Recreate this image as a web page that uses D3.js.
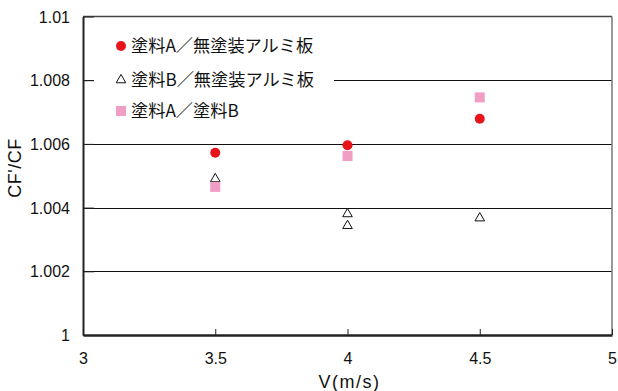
<!DOCTYPE html>
<html>
<head>
<meta charset="utf-8">
<script src="https://cdn.jsdelivr.net/npm/d3@7"></script>
<style>
  html, body { margin: 0; padding: 0; background: #fff; }
  svg { display: block; }
</style>
</head>
<body>
<svg id="chart" width="618" height="391"></svg>
<script>
// Wind speed (m/s) at each measurement
const speeds = [3.5, 4, 4.5];
// CF'/CF ratios per coating pair
const paintAvsBare = [1.00572, 1.00596, 1.00679];
const paintBvsBareX = [3.5, 4, 4, 4.5];
const paintBvsBare = [1.0049, 1.0038, 1.00343, 1.00367];
const paintAvsB = [1.00465, 1.00562, 1.00746];
const xTicks = [3, 3.5, 4, 4.5, 5];
const yTicks = [1, 1.002, 1.004, 1.006, 1.008, 1.01];
const legendLabels = ["塗料A／無塗装アルミ板", "塗料B／無塗装アルミ板", "塗料A／塗料B"];

const svg = d3.select("#chart");
const plotL = 83, plotR = 612, plotT = 16.5, plotB = 335;
const x = d3.scaleLinear().domain([3, 5]).range([plotL, plotR]);
const y = d3.scaleLinear().domain([1, 1.01]).range([plotB, plotT]);
const numFont = "'Liberation Sans', Arial, sans-serif";
const jpFont = "'Noto Sans CJK JP', sans-serif";

// horizontal gridlines
svg.append("g").selectAll("line").data(yTicks.slice(1, -1)).join("line")
  .attr("x1", plotL).attr("x2", plotR)
  .attr("y1", d => Math.round(y(d)) + 0.5).attr("y2", d => Math.round(y(d)) + 0.5)
  .attr("stroke", "#111").attr("stroke-width", 1);

// plot frame: top and right edges
svg.append("line").attr("x1", plotL).attr("x2", plotR).attr("y1", plotT).attr("y2", plotT)
  .attr("stroke", "#444").attr("stroke-width", 1.5);
svg.append("line").attr("x1", plotR).attr("x2", plotR).attr("y1", plotT).attr("y2", plotB)
  .attr("stroke", "#777").attr("stroke-width", 1.5);

// legend panel hides the gridline behind it
svg.append("rect").attr("x", 94).attr("y", 28).attr("width", 240).attr("height", 100)
  .attr("fill", "#fff");

// axes
const yAxis = d3.axisLeft(y).tickValues(yTicks).tickFormat(d => d3.format("")(+d.toFixed(3)))
  .tickSizeInner(-11).tickSizeOuter(0).tickPadding(13);
const gy = svg.append("g").attr("transform", `translate(${plotL},0)`).call(yAxis);
gy.select(".domain").attr("stroke", "#222").attr("stroke-width", 2);
gy.selectAll(".tick line").attr("stroke", "#222");
gy.selectAll("text").attr("font-family", numFont).attr("font-size", 16).attr("fill", "#111")
  .attr("dy", "0.35em");

const xAxis = d3.axisBottom(x).tickValues(xTicks).tickFormat(d3.format(""))
  .tickSizeInner(-6).tickSizeOuter(0).tickPadding(18);
const gx = svg.append("g").attr("transform", `translate(0,${plotB})`).call(xAxis);
gx.select(".domain").attr("stroke", "#222").attr("stroke-width", 2.5);
gx.selectAll(".tick line").attr("stroke", "#222");
gx.selectAll("text").attr("font-family", numFont).attr("font-size", 16).attr("fill", "#111");

// axis titles
svg.append("text").attr("x", (plotL + plotR) / 2 + 2).attr("y", 388)
  .attr("text-anchor", "middle").attr("font-family", numFont).attr("font-size", 18)
  .attr("letter-spacing", 1.5).attr("fill", "#111").text("V(m/s)");
svg.append("text").attr("transform", "translate(21,168) rotate(-90)")
  .attr("text-anchor", "middle").attr("font-family", numFont).attr("font-size", 18)
  .attr("letter-spacing", 0.5).attr("fill", "#111").text("CF'/CF");

// markers
const red = "#e8141c", pink = "#f09ec4";
const triangle = d3.symbol().type(d3.symbolTriangle).size(40);

svg.append("g").selectAll("circle").data(speeds.map((s, i) => [s, paintAvsBare[i]])).join("circle")
  .attr("cx", d => x(d[0])).attr("cy", d => y(d[1])).attr("r", 5).attr("fill", red);

svg.append("g").selectAll("path").data(paintBvsBareX.map((s, i) => [s, paintBvsBare[i]])).join("path")
  .attr("d", triangle).attr("transform", d => `translate(${x(d[0])},${y(d[1])})`)
  .attr("fill", "#fff").attr("stroke", "#111").attr("stroke-width", 1);

svg.append("g").selectAll("rect").data(speeds.map((s, i) => [s, paintAvsB[i]])).join("rect")
  .attr("x", d => x(d[0]) - 5).attr("y", d => y(d[1]) - 5).attr("width", 10).attr("height", 10)
  .attr("fill", pink);

// legend
const ly = [46, 80, 111];
const lg = svg.append("g");
lg.append("circle").attr("cx", 121).attr("cy", ly[0]).attr("r", 5).attr("fill", red);
lg.append("path").attr("d", triangle).attr("transform", `translate(121,${ly[1]})`)
  .attr("fill", "#fff").attr("stroke", "#111").attr("stroke-width", 1);
lg.append("rect").attr("x", 116).attr("y", ly[2] - 5).attr("width", 10).attr("height", 10).attr("fill", pink);
lg.selectAll("text").data(legendLabels).join("text")
  .attr("x", 131).attr("y", (d, i) => ly[i]).attr("dy", "0.36em")
  .attr("font-family", jpFont).attr("font-size", 17.2).attr("fill", "#111").text(d => d);
</script>
</body>
</html>
